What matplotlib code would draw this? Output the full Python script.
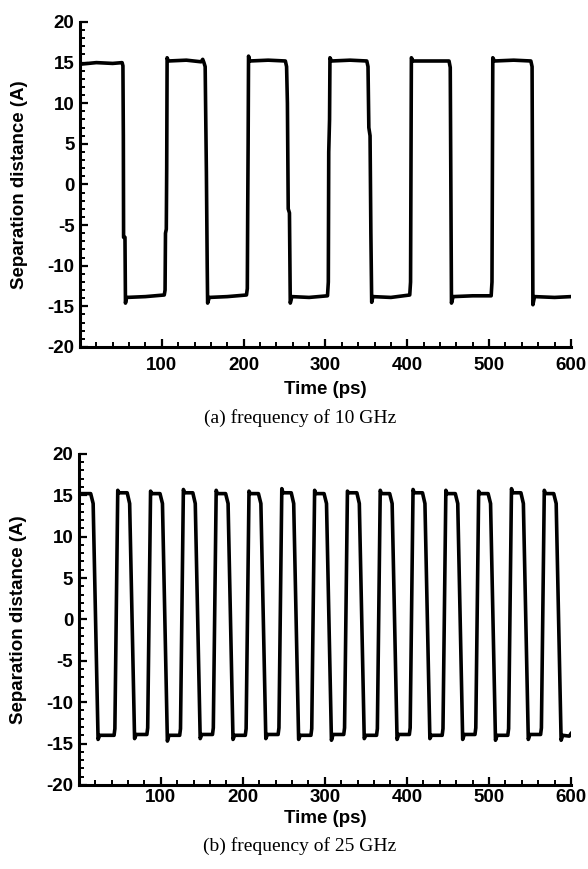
import matplotlib
matplotlib.use('Agg')
import matplotlib.pyplot as plt
from matplotlib.ticker import MultipleLocator

plt.rcParams['axes.unicode_minus'] = False
plt.rcParams['font.family'] = ['Liberation Sans', 'DejaVu Sans']

# (a) 10 GHz - corner points
t_a = [0, 20, 40, 51.5, 52.5, 53, 53.3, 55, 55.6, 57, 80, 103, 104, 104.5, 105.5, 106, 106.5, 108,
       130, 148, 150, 151.5, 153, 153.5, 154.5, 155.5, 156, 158, 180, 203.5, 204.5, 205, 205.5, 206,
       207.5, 230, 251, 252.5, 253.5, 254.5, 256, 257, 259, 280, 302.5, 303.5, 304, 305, 305.5, 307.5,
       330, 350.5, 352, 353, 354.5, 355.5, 356.5, 358, 380, 403, 404, 405, 407, 430, 451, 452.5, 454,
       456, 480, 502.5, 503.5, 504.5, 506.5, 530, 551, 552.5, 553.5, 555.5, 580, 600]
y_a = [14.8, 15.0, 14.9, 15.0, 14.6, 6, -6.5, -6.5, -14.6, -13.9, -13.8, -13.6, -13.0, -6, -5.5, 2, 15.6, 15.2,
       15.3, 15.1, 15.4, 15.0, 14.5, 10, 1.5, -10, -14.6, -13.9, -13.8, -13.6, -12.8, -3, 5, 15.8,
       15.2, 15.3, 15.2, 14.5, 10, -3, -3.5, -14.6, -13.8, -13.9, -13.7, -12, 4, 8, 15.6, 15.2,
       15.3, 15.2, 14.5, 7, 6, -6, -14.5, -13.8, -13.9, -13.6, -12, 15.6, 15.2, 15.2, 15.2, 14.4, -14.6,
       -13.8, -13.7, -13.7, -12, 15.6, 15.2, 15.3, 15.2, 14.5, -14.8, -13.8, -13.9, -13.8]

# (b) 25 GHz - edge times per pulse (ps)
rise_start_b = [43, 83, 123, 163, 203, 243, 283, 323, 363, 403, 443, 483, 523, 563]
rise_end_b = [47.5, 87.5, 127.5, 167.5, 207.5, 247.5, 287.5, 327.5, 367.5, 407.5, 447.5, 487.5, 527.5, 567.5]
fall_start_b = [17.5, 62, 102, 142, 182, 222, 262, 302, 342, 382, 422, 462, 502, 542, 582]
fall_end_b = [23.5, 68, 108, 148, 188, 228, 268, 308, 348, 388, 428, 468, 508, 548, 588]
peak_b = [15.4, 15.6, 15.5, 15.7, 15.6, 15.5, 15.8, 15.6, 15.5, 15.6, 15.7, 15.6, 15.5, 15.8, 15.6]
high_b = [15.2, 15.3, 15.2, 15.3, 15.2, 15.2, 15.3, 15.2, 15.3, 15.2, 15.3, 15.2, 15.2, 15.3, 15.2]
low_b = [-14.0, -13.9, -14.0, -13.9, -14.0, -13.9, -14.0, -13.9, -14.0, -13.9, -14.0, -13.9, -14.0, -13.9, -14.0]
dip_b = [-14.5, -14.4, -14.7, -14.4, -14.5, -14.4, -14.5, -14.6, -14.4, -14.5, -14.4, -14.5, -14.6, -14.5, -14.6]

# build the (b) trace from the edges
t_b = [0]
y_b = [high_b[0]]
for i in range(len(fall_start_b)):
    if i > 0:
        t_b += [rise_start_b[i - 1], rise_start_b[i - 1] + 1, rise_end_b[i - 1], rise_end_b[i - 1] + 1.5]
        y_b += [low_b[i - 1], low_b[i - 1] + 0.8, peak_b[i], high_b[i]]
    t_b += [fall_start_b[i] - 3, fall_start_b[i], fall_end_b[i], fall_end_b[i] + 2]
    y_b += [high_b[i], 14.0, dip_b[i], low_b[i]]
t_b += [598, 600]
y_b += [-14.1, -13.8]


def style_axes(ax, xpad):
    ax.set_xlim(0, 600)
    ax.set_ylim(-20, 20)
    ax.set_xticks([100, 200, 300, 400, 500, 600])
    ax.set_yticks([-20, -15, -10, -5, 0, 5, 10, 15, 20])
    ax.xaxis.set_minor_locator(MultipleLocator(20))
    ax.yaxis.set_minor_locator(MultipleLocator(1))
    ax.spines['top'].set_visible(False)
    ax.spines['right'].set_visible(False)
    ax.spines['left'].set_linewidth(2.2)
    ax.spines['bottom'].set_linewidth(2.2)
    ax.tick_params(which='major', direction='in', length=6, width=1.6, labelsize=13.5)
    ax.tick_params(which='minor', direction='in', length=3.5, width=1.4)
    ax.tick_params(axis='y', which='major', pad=4)
    ax.tick_params(axis='x', which='major', pad=xpad)
    for lab in ax.get_xticklabels() + ax.get_yticklabels():
        lab.set_fontweight('bold')
    ax.set_ylabel('Separation distance (A)', fontsize=13.5, fontweight='bold')
    ax.yaxis.set_label_coords(-0.105, 0.5)


fig = plt.figure(figsize=(5.88, 8.69), dpi=100)

ax1 = fig.add_axes([0.136, 0.6007, 0.835, 0.374])
ax1.plot(t_a, y_a, color='black', linewidth=2.6)
style_axes(ax1, 7)
ax1.set_xlabel('Time (ps)', fontsize=13.5, fontweight='bold')
ax1.xaxis.set_label_coords(0.5, -0.13)
ax1.xaxis.label.set_verticalalignment('center')
fig.text(0.51, 1 - 418 / 869, '(a) frequency of 10 GHz', ha='center', va='center',
         family='Liberation Serif', fontsize=14)

ax2 = fig.add_axes([0.134, 0.0967, 0.837, 0.381])
ax2.plot(t_b, y_b, color='black', linewidth=2.6)
style_axes(ax2, 3)
ax2.set_xlabel('Time (ps)', fontsize=13.5, fontweight='bold')
ax2.xaxis.set_label_coords(0.5, -0.1)
ax2.xaxis.label.set_verticalalignment('center')
fig.text(0.51, 1 - 846 / 869, '(b) frequency of 25 GHz', ha='center', va='center',
         family='Liberation Serif', fontsize=14)

fig.savefig('out.png', dpi=100)
